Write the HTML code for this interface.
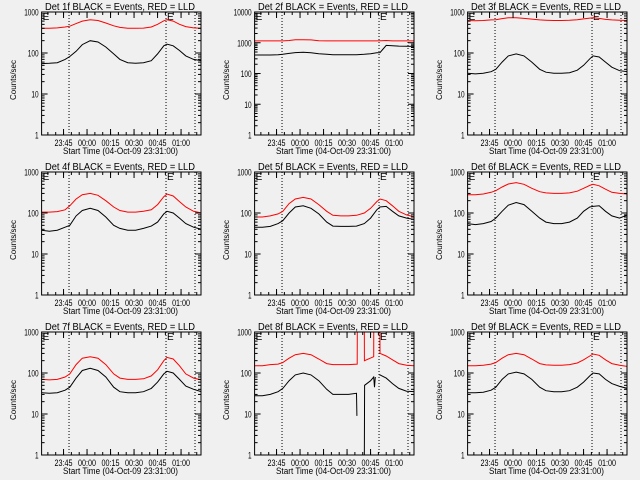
<!DOCTYPE html>
<html><head><meta charset="utf-8"><style>
html,body{margin:0;padding:0;background:#f0f0f0;}
svg{display:block;font-family:"Liberation Sans",sans-serif;}
</style></head><body>
<svg id="c" width="640" height="480" viewBox="0 0 640 480">
<rect width="640" height="480" fill="#f0f0f0"/>
</svg>
<script>
const T=[0,5,10,15,18,22,26,31,36,41,46,50,55,60,65,70,74,78,80,84,88,92,97,102];
const xTickLabels=["23:45","00:00","00:15","00:30","00:45","01:00"];
const xTickTimes=[14,29,44,59,74,89];
const dottedTimes=[17.5,79.4,97.9];
const p1Black=[55,56,58,70,82,110,160,200,185,140,95,70,58,56,58,65,95,150,165,150,115,85,70,65];
const p1Red=[400,400,410,430,450,520,600,650,620,540,460,420,400,400,405,430,500,610,650,600,500,440,410,400];
const p2Black=[400,400,400,410,420,450,480,490,470,440,420,410,410,410,410,420,440,470,480,820,800,780,770,760];
const p2Red=[1150,1150,1150,1150,1150,1180,1250,1250,1240,1170,1150,1150,1150,1150,1150,1150,1150,1150,1160,1180,1150,1150,1150,1150];
const p3Black=[32,31,32,35,40,60,85,95,85,60,40,34,32,32,33,38,50,72,85,80,60,45,37,35];
const p3Red=[620,610,620,640,650,690,720,720,700,670,640,630,620,620,630,650,680,710,720,700,660,640,630,620];
const p4Black=[38,36,38,45,50,85,115,130,115,80,50,42,38,38,42,48,60,95,110,100,75,55,45,40];
const p4Red=[105,105,108,120,150,220,280,300,270,200,140,115,105,105,110,120,160,250,290,260,190,140,110,100];
const p5Black=[45,45,47,55,65,100,140,150,130,95,60,48,47,47,48,55,75,120,140,145,110,85,75,70];
const p5Red=[80,80,85,95,110,170,220,240,220,160,110,88,85,85,88,100,130,190,220,200,150,110,90,80];
const p6Black=[55,52,55,62,75,110,155,180,160,110,75,60,55,55,60,75,110,140,145,150,110,85,75,90];
const p6Red=[280,280,290,320,350,430,510,550,500,400,330,310,300,300,310,340,400,470,500,460,380,320,300,290];
const p7Black=[33,32,33,38,45,75,115,130,115,80,45,35,33,33,35,42,60,95,110,100,70,48,40,35];
const p7Red=[70,68,70,80,95,160,230,250,230,160,95,75,70,70,72,85,120,200,240,220,150,95,75,68];
const p9Black=[33,33,34,38,45,70,95,105,95,70,45,37,35,35,37,45,60,85,100,95,70,55,47,42];
const p9Red=[150,150,155,165,180,230,280,300,280,220,170,158,155,155,160,175,210,260,290,270,210,170,155,145];
const t8Red=[0,5,10,15,18,22,26,31,36,41,46,50,55,60,65.5,65.6,70,70.1,76,76.1,79.9,80,84,88,92,97,102];
const p8Red=[150,150,160,165,180,230,280,300,280,220,170,160,160,160,165,5000,5000,200,250,5000,5000,300,260,210,170,155,150];
const t8Black=[0,5,10,15,18,22,26,31,36,41,46,50,55,60,65,65.3,65.6,70,70.2,74,76,76.5,77,77.5,79.5,80,84,88,92,97,102];
const p8Black=[28,28,30,35,42,65,90,100,90,65,40,30,30,30,32,9,null,0.5,50,65,80,45,80,null,90,90,75,55,42,36,35];

const panels=[
 {n:1,b:p1Black,r:p1Red,dec:3},{n:2,b:p2Black,r:p2Red,dec:4},{n:3,b:p3Black,r:p3Red,dec:3},
 {n:4,b:p4Black,r:p4Red,dec:3},{n:5,b:p5Black,r:p5Red,dec:3},{n:6,b:p6Black,r:p6Red,dec:3},
 {n:7,b:p7Black,r:p7Red,dec:3},{n:8,b:p8Black,r:p8Red,tb:t8Black,tr:t8Red,dec:3},{n:9,b:p9Black,r:p9Red,dec:3}];
const svg=document.getElementById('c');
const NS='http://www.w3.org/2000/svg';
function mk(tag,attrs,parent){const e=document.createElementNS(NS,tag);for(const k in attrs)e.setAttribute(k,attrs[k]);parent.appendChild(e);return e;}
const L=41.6,R=201,TOP=12,BOT=135;
panels.forEach((p,i)=>{
 const ox=[0,213,426][i%3], oy=[0,160,320][Math.floor(i/3)];
 const g=mk('g',{transform:`translate(${ox},${oy})`},svg);
 
 
 const xs=t=>L+t*1.567;
 const ys=v=>BOT-(BOT-TOP)*Math.log10(v)/p.dec;
 const cp=mk('clipPath',{id:'cp'+i},g);mk('rect',{x:L,y:TOP,width:R-L,height:BOT-TOP},cp);
 const tt=mk('text',{x:45,y:10,'font-size':'10',fill:'#000',textLength:150,lengthAdjust:'spacingAndGlyphs'},g);
 tt.textContent=`Det ${p.n}f BLACK = Events, RED = LLD`;
 
 
 dottedTimes.forEach(t=>{const l=mk('line',{x1:xs(t),x2:xs(t),y1:TOP,y2:BOT,stroke:'#000','stroke-width':1,'stroke-dasharray':'1,2'},g);
  
  });
 [[L+1,TOP+8],[xs(dottedTimes[1])+1,TOP+8]].forEach(([x,y])=>{const e=mk('text',{x:x,y:y,'font-size':'10',fill:'#000'},g);e.textContent='E';
  
  });
 function series(tarr,varr,color,name){
  let d='',pen=false;
  for(let k=0;k<varr.length;k++){const v=varr[k];if(v==null){pen=false;continue;}
   d+=(pen?'L':'M')+xs(tarr[k]).toFixed(1)+','+ys(v).toFixed(1);pen=true;}
  const pa=mk('path',{d:d,fill:'none',stroke:color,'stroke-width':1,'clip-path':`url(#cp${i})`},g);
  
  
 }
 series(p.tr||T,p.r,'#ff0000','lld-series');
 series(p.tb||T,p.b,'#000000','events-series');
 const bx=mk('rect',{x:L,y:TOP,width:R-L,height:BOT-TOP,fill:'none',stroke:'#000','stroke-width':1},g);
 
 
 for(let d=0;d<=p.dec;d++){
  const y=ys(Math.pow(10,d));
  mk('line',{x1:L,x2:L+6,y1:y,y2:y,stroke:'#000'},g);mk('line',{x1:R-6,x2:R,y1:y,y2:y,stroke:'#000'},g);
  const s=String(Math.pow(10,d));
  const tl=mk('text',{x:L-3,y:y+3.5,'text-anchor':'end','font-size':'9',fill:'#000',textLength:s.length*3.6,lengthAdjust:'spacingAndGlyphs'},g);tl.textContent=s;
  
  
  if(d<p.dec)for(let m=2;m<10;m++){const yy=ys(m*Math.pow(10,d));
   mk('line',{x1:L,x2:L+3,y1:yy,y2:yy,stroke:'#000'},g);mk('line',{x1:R-3,x2:R,y1:yy,y2:yy,stroke:'#000'},g);}
 }
 xTickTimes.forEach((t,k)=>{const x=xs(t);
  mk('line',{x1:x,x2:x,y1:BOT,y2:BOT-6,stroke:'#000'},g);mk('line',{x1:x,x2:x,y1:TOP,y2:TOP+6,stroke:'#000'},g);
  const tl=mk('text',{x:x-9,y:146,'font-size':'9',fill:'#000',textLength:18,lengthAdjust:'spacingAndGlyphs'},g);tl.textContent=xTickLabels[k];
  
  });
 for(let t=4;t<102;t+=5){const x=xs(t);mk('line',{x1:x,x2:x,y1:BOT,y2:BOT-3,stroke:'#000'},g);mk('line',{x1:x,x2:x,y1:TOP,y2:TOP+3,stroke:'#000'},g);}
 const xl=mk('text',{x:63,y:154,'font-size':'9',fill:'#000',textLength:115,lengthAdjust:'spacingAndGlyphs'},g);xl.textContent='Start Time (04-Oct-09 23:31:00)';
 
 
 const yl=mk('text',{x:-20,y:0,'font-size':'8.5',fill:'#000',textLength:40,lengthAdjust:'spacingAndGlyphs',transform:'translate(16,80) rotate(-90)'},g);yl.textContent='Counts/sec';
 
 
});
</script>
</body></html>
